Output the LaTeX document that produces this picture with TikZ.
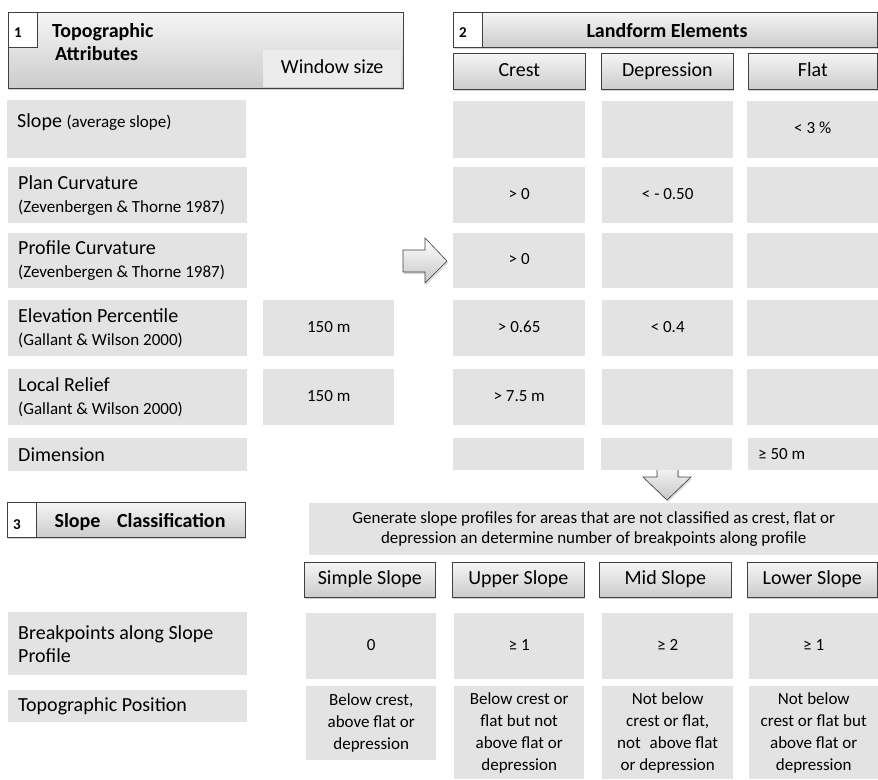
\documentclass[tikz,border=0pt]{standalone}
\usepackage{fontspec}
\setmainfont{Carlito}
\usetikzlibrary{shadows,calc}
\definecolor{cellgray}{RGB}{227,227,227}
\definecolor{edge}{RGB}{64,64,64}
\definecolor{htop}{RGB}{245,245,245}
\definecolor{hbot}{RGB}{204,204,204}
\definecolor{winfill}{RGB}{236,236,236}
\newcommand{\fmain}{\fontsize{20}{23}\selectfont}
\newcommand{\fsub}{\fontsize{17}{23}\selectfont}
\newcommand{\fval}{\fontsize{17}{20}\selectfont}
\newcommand{\fpos}{\fontsize{17}{22}\selectfont}
\newcommand{\fbold}{\fontsize{20}{23}\selectfont\bfseries}
\newcommand{\fnum}{\fontsize{15}{18}\selectfont\bfseries}
\newcommand{\rbox}[7][]{\node[anchor=north west, inner sep=0pt, minimum width=#4pt-#2pt, minimum height=#5pt-#3pt, #1] (#6) at (#2,#3) {#7};}
\begin{document}
\begin{tikzpicture}[x=1pt,y=-1pt,
  cell/.style={fill=cellgray, font=\fval, align=center},
  val/.style={cell, text height=12pt, text depth=3.5pt},
  hdr/.style={draw=edge, line width=0.7pt, top color=htop, bottom color=hbot,
    drop shadow={shadow xshift=1pt, shadow yshift=-2pt, opacity=0.35}},
  numbox/.style={draw=edge, line width=0.7pt, fill=white},
  subhdr/.style={hdr, font=\fmain, text height=14pt, text depth=4pt},
  txt/.style={inner sep=0pt},
  arr/.style={draw=edge, line width=0.6pt, top color=white, bottom color=black!22,
    drop shadow={shadow xshift=1pt, shadow yshift=-2pt, opacity=0.3}}
]
\useasboundingbox (0,0) rectangle (878,779);

% ---------- arrows (behind boxes)
\path[arr] (403,250) -- (425,250) -- (425,238) -- (447,261) -- (425,283) -- (425,272) -- (403,272) -- cycle;
\path[arr] (657,460) -- (657,477) -- (643,477) -- (667,500) -- (691,477) -- (678,477) -- (678,460) -- cycle;

% ---------- header 1
\rbox[hdr]{8}{12}{403}{88}{h1}{}
\rbox[fill=winfill, font=\fmain, text height=14pt, text depth=4pt]{263}{50}{401}{87}{win}{Window size}
\rbox[numbox]{8}{12}{37}{47}{n1}{}
\node[txt, anchor=base west, font=\fnum] (n1t) at ([xshift=6pt,yshift=10pt]n1.south west) {1};
\node[txt, anchor=base west, font=\fbold] (h1a) at (52,37) {Topographic};
\node[txt, anchor=base west, font=\fbold] (h1b) at (55,60) {Attributes};

% ---------- header 2
\rbox[hdr]{453}{12}{877}{47}{h2}{}
\rbox[numbox]{453}{12}{482}{47}{n2}{}
\node[txt, anchor=base west, font=\fnum] (n2t) at ([xshift=6pt,yshift=10pt]n2.south west) {2};
\node[txt, anchor=base, font=\fbold] (h2t) at (667,37) {Landform Elements};
\rbox[subhdr]{453}{53}{585}{89}{crest}{Crest}
\rbox[subhdr]{601}{53}{733}{89}{depr}{Depression}
\rbox[subhdr]{748}{53}{877}{89}{flat}{Flat}

% ---------- attribute rows
\rbox[cell]{7}{100}{246}{158}{lslope}{}
\node[txt, anchor=base west, font=\fmain] (tslope) at (17,127) {Slope {\fsub (average slope)}};
\rbox[cell]{8}{167}{247}{223}{lplan}{}
\node[txt, anchor=west, font=\fmain, align=left] (tplan) at ([xshift=10pt]lplan.west) {Plan Curvature\\{\fsub (Zevenbergen \& Thorne 1987)}};
\rbox[cell]{8}{233}{247}{288}{lprof}{}
\node[txt, anchor=west, font=\fmain, align=left] (tprof) at ([xshift=10pt]lprof.west) {Profile Curvature\\{\fsub (Zevenbergen \& Thorne 1987)}};
\rbox[cell]{8}{300}{247}{356}{lelev}{}
\node[txt, anchor=west, font=\fmain, align=left] (telev) at ([xshift=10pt]lelev.west) {Elevation Percentile\\{\fsub (Gallant \& Wilson 2000)}};
\rbox[cell]{8}{369}{247}{425}{lrel}{}
\node[txt, anchor=west, font=\fmain, align=left] (trel) at ([xshift=10pt]lrel.west) {Local Relief\\{\fsub (Gallant \& Wilson 2000)}};
\rbox[cell]{8}{438}{247}{471}{ldim}{}
\node[txt, anchor=west, font=\fmain] (tdim) at ([xshift=10pt]ldim.west) {Dimension};

% window sizes
\rbox[val]{263}{300}{394}{356}{welev}{150 m}
\rbox[val]{263}{369}{394}{425}{wrel}{150 m}

% landform value cells
\rbox[val]{453}{101}{585}{158}{cslope}{}
\rbox[val]{602}{101}{733}{158}{dslope}{}
\rbox[val]{747}{101}{878}{158}{fslope}{< 3 \%}
\rbox[val]{453}{167}{585}{223}{cplan}{> 0}
\rbox[val]{602}{167}{733}{223}{dplan}{< - 0.50}
\rbox[val]{747}{167}{878}{223}{fplan}{}
\rbox[val]{453}{233}{585}{288}{cprof}{> 0}
\rbox[val]{602}{233}{733}{288}{dprof}{}
\rbox[val]{747}{233}{878}{288}{fprof}{}
\rbox[val]{453}{300}{585}{356}{celev}{> 0.65}
\rbox[val]{602}{300}{733}{356}{delev}{< 0.4}
\rbox[val]{747}{300}{878}{356}{felev}{}
\rbox[val]{453}{369}{585}{425}{crel}{> 7.5 m}
\rbox[val]{602}{369}{733}{425}{drel}{}
\rbox[val]{747}{369}{878}{425}{frel}{}
\rbox[val]{453}{438}{584}{470}{cdim}{}
\rbox[val]{601}{438}{732}{470}{ddim}{}
\rbox[val]{748}{438}{878}{470}{fdim}{}
\node[txt, anchor=west, font=\fval] (tfdim) at ([xshift=10pt]fdim.west) {≥ 50 m};

% ---------- header 3
\rbox[hdr]{7}{502}{245}{537}{h3}{}
\rbox[numbox]{7}{502}{36}{537}{n3}{}
\node[txt, anchor=base west, font=\fnum] (n3t) at ([xshift=6pt,yshift=8pt]n3.south west) {3};
\node[txt, anchor=base, font=\fbold] (h3t) at (140,527) {Slope\hspace{0.6em} Classification};

\rbox[cell]{309}{503}{878}{555}{gen}{Generate slope profiles for areas that are not classified as crest, flat or\\depression an determine number of breakpoints along profile}

\rbox[subhdr]{304}{562}{435}{597}{simple}{Simple Slope}
\rbox[subhdr]{452}{562}{584}{597}{upper}{Upper Slope}
\rbox[subhdr]{599}{562}{731}{597}{mid}{Mid Slope}
\rbox[subhdr]{747}{562}{877}{597}{lower}{Lower Slope}

\rbox[cell]{8}{612}{247}{675}{lbp}{}
\node[txt, anchor=west, font=\fmain, align=left] (tbp) at ([xshift=10pt]lbp.west) {Breakpoints along Slope\\Profile};
\rbox[cell]{8}{690}{247}{722}{ltp}{}
\node[txt, anchor=west, font=\fmain] (ttp) at ([xshift=10pt]ltp.west) {Topographic Position};

\rbox[val]{306}{613}{436}{679}{bsimple}{0}
\rbox[val]{454}{613}{584}{679}{bupper}{≥ 1}
\rbox[val]{602}{613}{733}{679}{bmid}{≥ 2}
\rbox[val]{749}{613}{878}{679}{blower}{≥ 1}

\rbox[cell, font=\fpos]{306}{686}{436}{760}{psimple}{Below crest,\\above flat or\\depression}
\rbox[cell, font=\fpos]{454}{686}{584}{779}{pupper}{Below crest or\\flat but not\\above flat or\\depression}
\rbox[cell, font=\fpos]{602}{686}{733}{779}{pmid}{Not below\\crest or flat,\\not\hspace{0.3em} above flat\\or depression}
\rbox[cell, font=\fpos]{749}{686}{878}{779}{plower}{Not below\\crest or flat but\\above flat or\\depression}
\end{tikzpicture}
\end{document}
